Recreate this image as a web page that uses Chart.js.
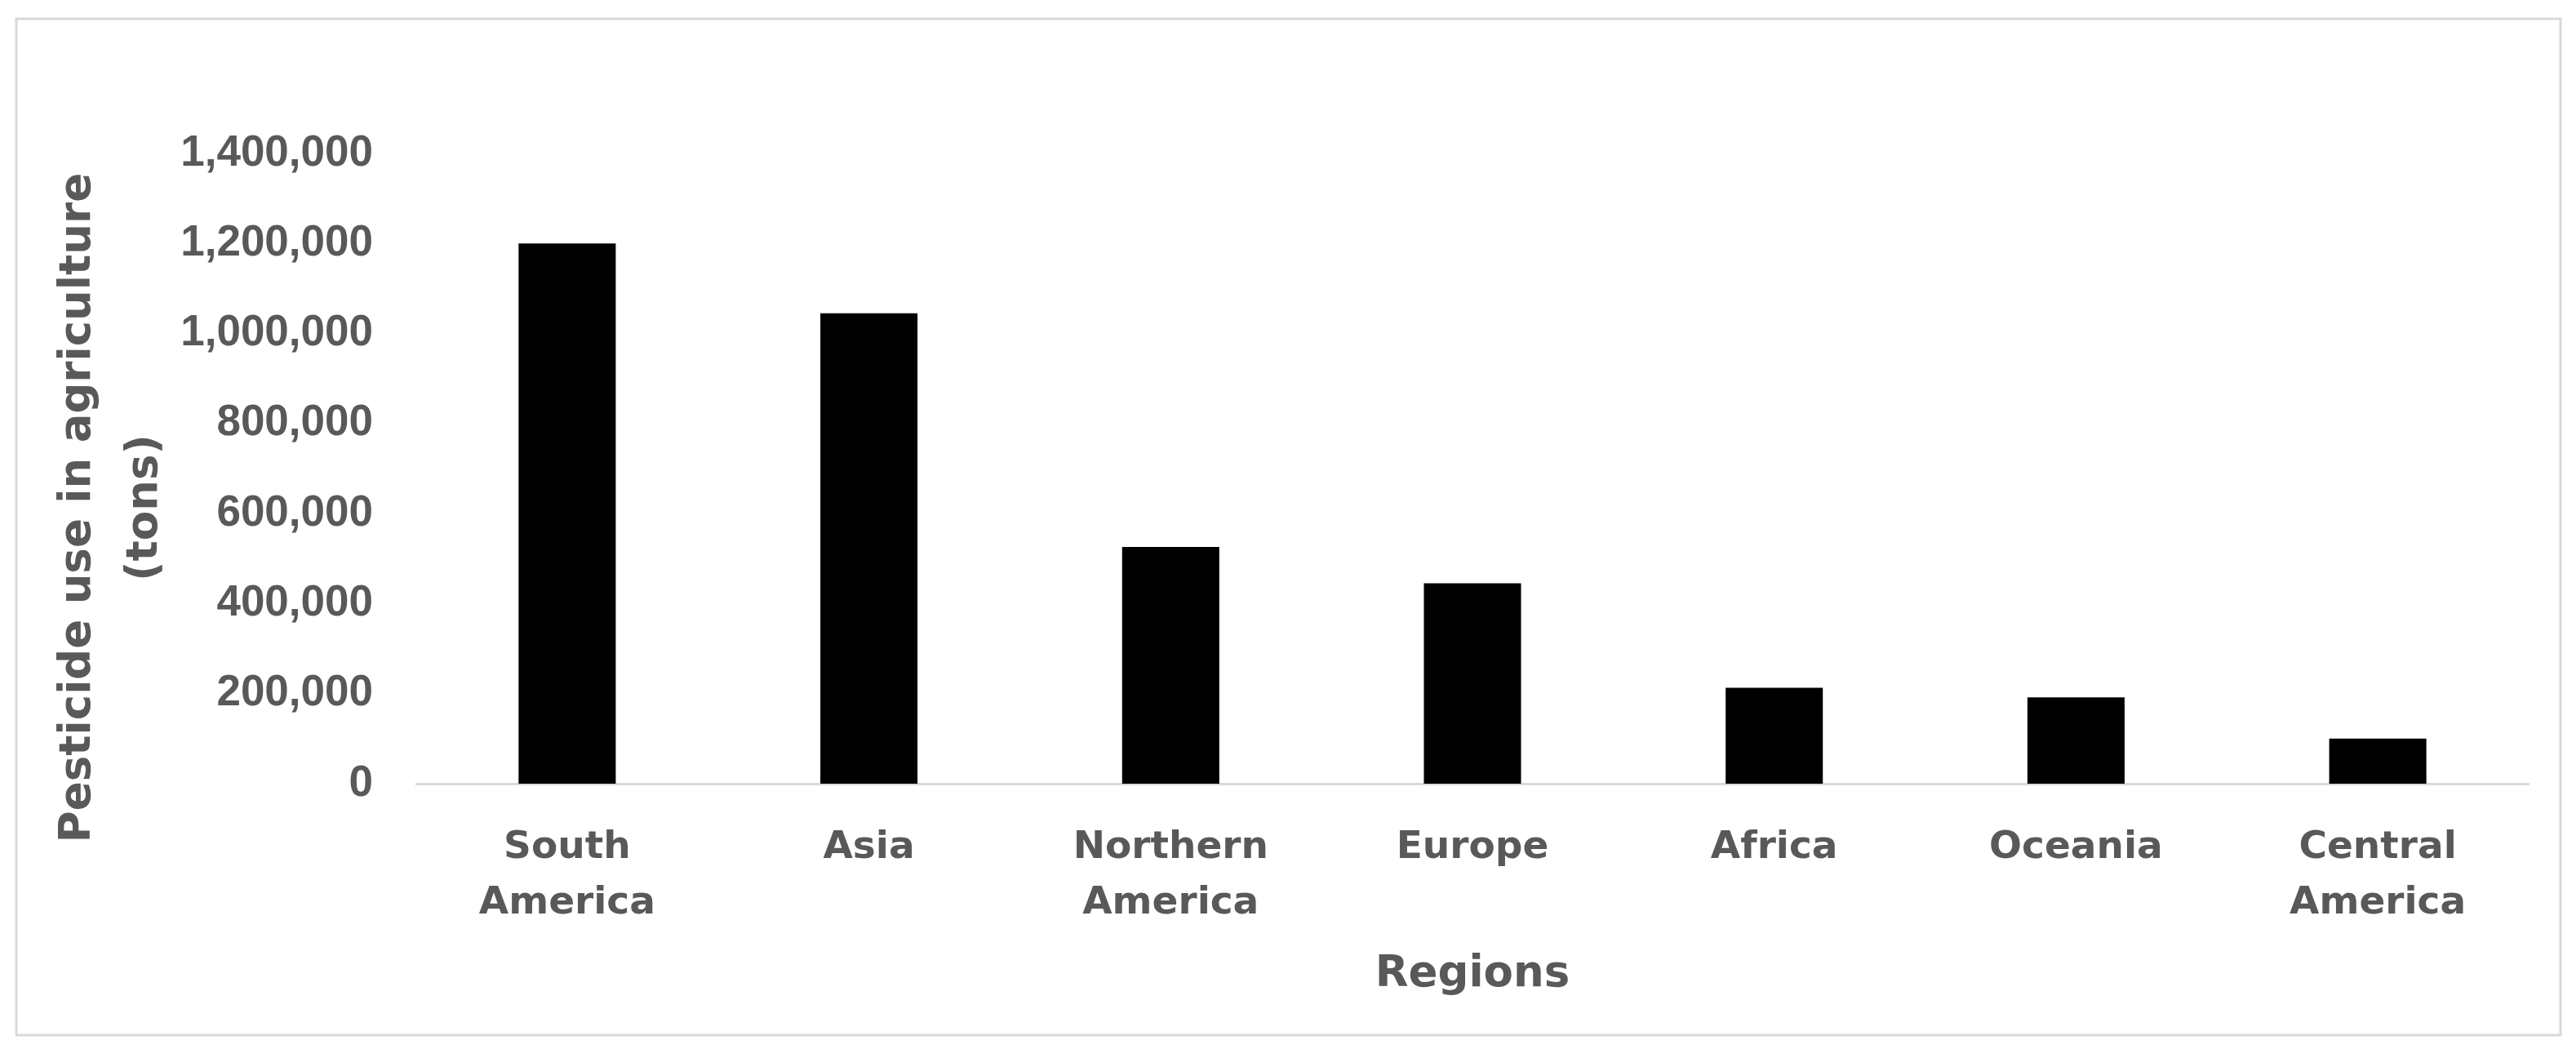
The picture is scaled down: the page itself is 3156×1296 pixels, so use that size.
<!DOCTYPE html>
<html>
<head>
<meta charset="utf-8">
<script src="https://cdn.jsdelivr.net/npm/chart.js@4/dist/chart.umd.min.js"></script>
<style>
  html, body { margin: 0; padding: 0; background: #ffffff; }
  #wrap { width: 3156px; height: 1296px; }
</style>
</head>
<body>
<div id="wrap"><canvas id="c" width="3156" height="1296"></canvas></div>
<script>
// ---- data ----
const categories = [
  ['South', 'America'],
  'Asia',
  ['Northern', 'America'],
  'Europe',
  'Africa',
  'Oceania',
  ['Central', 'America']
];
const pesticideTons = [1200000, 1045000, 526000, 445000, 213000, 192000, 100000];
const yTickValues = [0, 200000, 400000, 600000, 800000, 1000000, 1200000, 1400000];
const yTitleLines = ['Pesticide use in agriculture', '(tons)'];
const xTitle = 'Regions';

const TEXT = '#595959';
const LINE = '#d9d9d9';

const frame = {
  id: 'frame',
  beforeDraw(chart) {
    const ctx = chart.ctx;
    ctx.save();
    ctx.fillStyle = '#ffffff';
    ctx.fillRect(0, 0, chart.width, chart.height);
    ctx.strokeStyle = LINE;
    ctx.lineWidth = 3;
    ctx.strokeRect(20, 23, 3117, 1245);
    ctx.restore();
  }
};

const yTitle = {
  id: 'yTitle',
  afterDraw(chart) {
    const ctx = chart.ctx;
    ctx.save();
    ctx.fillStyle = TEXT;
    ctx.font = 'bold 53px "DejaVu Sans"';
    ctx.textAlign = 'center';
    ctx.textBaseline = 'middle';
    const xs = [96, 178];
    yTitleLines.forEach((t, i) => {
      ctx.save();
      ctx.translate(xs[i], 622);
      ctx.rotate(-Math.PI / 2);
      ctx.fillText(t, 0, 0);
      ctx.restore();
    });
    ctx.restore();
  }
};

new Chart(document.getElementById('c'), {
  type: 'bar',
  data: {
    labels: categories,
    datasets: [{
      data: pesticideTons,
      backgroundColor: '#000000',
      borderWidth: 0,
      categoryPercentage: 1,
      barPercentage: 0.322
    }]
  },
  options: {
    responsive: false,
    animation: false,
    devicePixelRatio: 1,
    layout: { padding: { left: 0, right: 58, top: 188, bottom: 0 } },
    plugins: { legend: { display: false }, tooltip: { enabled: false }, title: { display: false } },
    scales: {
      x: {
        grid: { display: false, drawTicks: false },
        border: { display: true, color: LINE, width: 3 },
        ticks: {
          color: TEXT,
          font: { family: '"DejaVu Sans"', weight: 'bold', size: 47, lineHeight: 68 / 47 },
          padding: 45,
          maxRotation: 0,
          autoSkip: false
        },
        title: {
          display: true,
          text: xTitle,
          color: TEXT,
          font: { family: '"DejaVu Sans"', weight: 'bold', size: 53, lineHeight: 1.2 },
          padding: { top: 0, bottom: 70 }
        },
        afterFit(scale) { scale.height = 336; }
      },
      y: {
        min: 0,
        max: yTickValues[yTickValues.length - 1],
        grid: { display: false, drawTicks: false },
        border: { display: false },
        afterBuildTicks(scale) { scale.ticks = yTickValues.map(v => ({ value: v })); },
        ticks: {
          color: TEXT,
          font: { family: '"Liberation Sans", Arial', weight: 'bold', size: 53 },
          padding: 53,
          callback: v => Number(v).toLocaleString('en-US')
        },
        afterFit(scale) { scale.width = 510; }
      }
    }
  },
  plugins: [frame, yTitle]
});
</script>
</body>
</html>
